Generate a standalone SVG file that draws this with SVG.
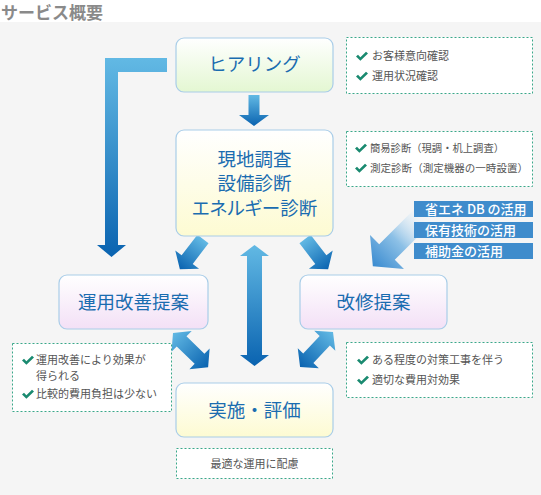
<svg xmlns="http://www.w3.org/2000/svg" width="541" height="495" viewBox="0 0 541 495">
<defs>
<style>
.title{font-family:"Noto Sans CJK JP","Noto Sans",sans-serif;font-size:17px;font-weight:bold;fill:#8a8a8a}
.box{stroke:#a9cde8;stroke-width:1.2}
.bt{font-family:"Noto Sans CJK JP","Noto Sans",sans-serif;font-size:18.5px;fill:#1a6cb0;text-anchor:middle}
.note{fill:#fff;stroke:#3aa88a;stroke-width:1;stroke-dasharray:2 2}
.nt{font-family:"Noto Sans CJK JP","Noto Sans",sans-serif;font-size:11px;fill:#555}
.chk{fill:#1a8a70}
.lab{fill:#3f8ccc}
.lt{font-family:"Noto Sans CJK JP","Noto Sans",sans-serif;font-size:13px;font-weight:500;fill:#fff}
</style>
<linearGradient id="gG" x1="0" y1="0" x2="0" y2="1"><stop offset="0" stop-color="#ffffff"/><stop offset="1" stop-color="#e4f7d2"/></linearGradient>
<linearGradient id="gY" x1="0" y1="0" x2="0" y2="1"><stop offset="0" stop-color="#ffffff"/><stop offset="1" stop-color="#fdfbd2"/></linearGradient>
<linearGradient id="gP" x1="0" y1="0" x2="0" y2="1"><stop offset="0" stop-color="#ffffff"/><stop offset="1" stop-color="#f3e0f6"/></linearGradient>
<linearGradient id="gA" x1="0" y1="0" x2="0" y2="1"><stop offset="0" stop-color="#62b9e4"/><stop offset="1" stop-color="#0a63b0"/></linearGradient>
<linearGradient id="gBig" x1="0" y1="0" x2="0" y2="1"><stop offset="0" stop-color="#ffffff" stop-opacity="0"/><stop offset="0.55" stop-color="#8cc0e6"/><stop offset="1" stop-color="#3a8bd0"/></linearGradient>
<path id="chk" d="M0,3.6 L2,1.8 L4.4,4.2 L10,-1.2 L12,0.6 L4.4,7.8 Z"/>
</defs>
<rect x="0" y="0" width="541" height="495" fill="#ffffff"/>
<rect x="0" y="22" width="541" height="473" fill="#f5f5f5"/>
<text class="title" x="1" y="19">サービス概要</text>

<g id="connectors">
  <path d="M105,58 H167 V72 H118 V245 H126 L111.5,257 L97,245 H105 Z" fill="url(#gA)"/>
  <path d="M248.5,95 H259.5 V115 H269 L254,126 L239,115 H248.5 Z" fill="url(#gA)"/>
  <path d="M254.5,245 L269,256 H262 V355 H269 L254.5,366 L240,355 H247 V256 H240 Z" fill="url(#gA)"/>
  <g transform="translate(203,239) rotate(37.5)">
    <path d="M-7,0 H7 V26 H15 L0,38 L-15,26 H-7 Z" fill="url(#gA)"/>
  </g>
  <g transform="translate(305,239) rotate(-37.5)">
    <path d="M-7,0 H7 V26 H15 L0,38 L-15,26 H-7 Z" fill="url(#gA)"/>
  </g>
  <g transform="translate(173,333) rotate(-45.8)">
    <path d="M0,0 L14.5,12 H7 V37 H14.5 L0,49 L-14.5,37 H-7 V12 H-14.5 Z" fill="url(#gA)"/>
  </g>
  <g transform="translate(333,332) rotate(43.3)">
    <path d="M0,0 L14.5,12 H7 V36 H14.5 L0,48 L-14.5,36 H-7 V12 H-14.5 Z" fill="url(#gA)"/>
  </g>
  <g transform="translate(428,211) rotate(45)">
    <path d="M-11,0 H11 V58 H24 L0,78 L-24,58 H-11 Z" fill="url(#gBig)"/>
  </g>
</g>

<g id="hearing">
  <rect class="box" x="176" y="38" width="157" height="54" rx="8" fill="url(#gG)"/>
  <text class="bt" x="254.5" y="71">ヒアリング</text>
</g>
<g id="survey">
  <rect class="box" x="176" y="130" width="157" height="106" rx="8" fill="url(#gY)"/>
  <text class="bt" x="254.5" y="166">現地調査</text>
  <text class="bt" x="254.5" y="190">設備診断</text>
  <text class="bt" x="254.5" y="215" style="font-feature-settings:'palt'">エネルギー診断</text>
</g>
<g id="operation">
  <rect class="box" x="59" y="275" width="149" height="54" rx="8" fill="url(#gP)"/>
  <text class="bt" x="133.5" y="309">運用改善提案</text>
</g>
<g id="renovation">
  <rect class="box" x="300" y="275" width="147" height="54" rx="8" fill="url(#gP)"/>
  <text class="bt" x="373.5" y="309">改修提案</text>
</g>
<g id="implement">
  <rect class="box" x="176" y="383" width="157" height="54" rx="8" fill="url(#gY)"/>
  <text class="bt" x="254.5" y="417">実施・評価</text>
</g>

<g id="note-hearing">
  <rect class="note" x="346.5" y="37.5" width="186" height="56"/>
  <use href="#chk" class="chk" x="356" y="53"/>
  <text class="nt" x="372" y="60">お客様意向確認</text>
  <use href="#chk" class="chk" x="356" y="73"/>
  <text class="nt" x="372" y="80">運用状況確認</text>
</g>
<g id="note-survey">
  <rect class="note" x="346.5" y="131.5" width="186" height="55"/>
  <use href="#chk" class="chk" x="355" y="145"/>
  <text class="nt" x="370" y="152" style="font-size:10.5px" textLength="134" lengthAdjust="spacingAndGlyphs">簡易診断（現調・机上調査）</text>
  <use href="#chk" class="chk" x="355" y="165"/>
  <text class="nt" x="370" y="172" style="font-size:10.5px" textLength="158" lengthAdjust="spacingAndGlyphs">測定診断（測定機器の一時設置）</text>
</g>
<g id="labels">
  <rect class="lab" x="414" y="201" width="119" height="16"/>
  <text class="lt" x="425" y="214">省エネ DB の活用</text>
  <rect class="lab" x="414" y="222" width="119" height="16"/>
  <text class="lt" x="425" y="235">保有技術の活用</text>
  <rect class="lab" x="414" y="243" width="119" height="16"/>
  <text class="lt" x="425" y="256">補助金の活用</text>
</g>
<g id="note-operation">
  <rect class="note" x="12.5" y="343.5" width="159" height="68"/>
  <use href="#chk" class="chk" x="22" y="357"/>
  <text class="nt" x="36" y="364">運用改善により効果が</text>
  <text class="nt" x="36" y="380">得られる</text>
  <use href="#chk" class="chk" x="22" y="391"/>
  <text class="nt" x="36" y="398">比較的費用負担は少ない</text>
</g>
<g id="note-renovation">
  <rect class="note" x="346.5" y="342.5" width="186" height="55"/>
  <use href="#chk" class="chk" x="357" y="357"/>
  <text class="nt" x="372" y="364">ある程度の対策工事を伴う</text>
  <use href="#chk" class="chk" x="357" y="377"/>
  <text class="nt" x="372" y="384">適切な費用対効果</text>
</g>
<g id="note-implement">
  <rect class="note" x="176.5" y="448.5" width="156" height="30"/>
  <text class="nt" x="254.5" y="468" text-anchor="middle">最適な運用に配慮</text>
</g>
</svg>
